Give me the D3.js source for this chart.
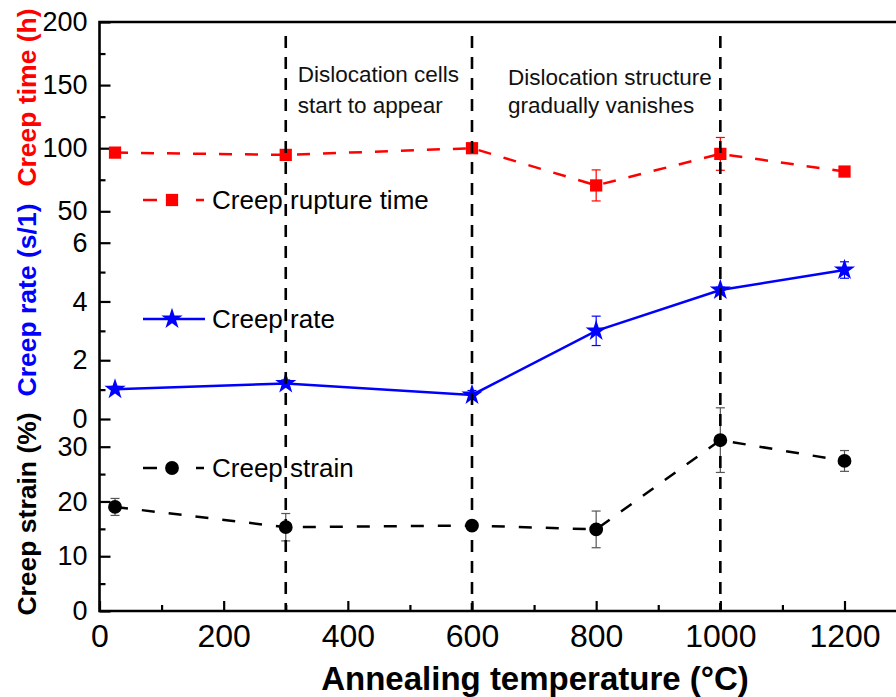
<!DOCTYPE html>
<html>
<head>
<meta charset="utf-8">
<script src="https://cdn.jsdelivr.net/npm/d3@7"></script>
<style>
  html, body { margin: 0; padding: 0; background: #fff; }
  svg { display: block; font-family: "Liberation Sans", Arial, sans-serif; }
</style>
</head>
<body>
<svg id="chart" width="896" height="697"></svg>
<script>
// Annealing temperatures (°C)
const temps = [25, 300, 600, 800, 1000, 1200];

// Creep rupture time (h) with error
const ruptureTime = [96.5, 94.7, 100, 70.5, 95.5, 81.5];
const ruptureErr  = [2, 2, 2, 12.3, 13, 2];

// Creep rate with error
const creepRate = [1.01, 1.21, 0.82, 3.0, 4.39, 5.07];
const rateErr   = [0.1, 0.12, 0.15, 0.5, 0.1, 0.28];

// Creep strain (%) with error
const creepStrain = [19.0, 15.3, 15.6, 14.9, 31.2, 27.4];
const strainErr   = [1.55, 2.5, 0.3, 3.35, 5.9, 1.9];

// Axis ticks
const xTicks = [0, 200, 400, 600, 800, 1000, 1200];
const xMinor = [100, 300, 500, 700, 900, 1100, 1300];
const timeTicks = [50, 100, 150, 200];
const timeMinor = [75, 125, 175];
const rateTicks = [0, 2, 4, 6];
const rateMinor = [1, 3, 5];
const strainTicks = [0, 10, 20, 30];
const strainMinor = [5, 15, 25];

// Vertical reference lines and their notes
const refLines = [300, 600, 1000];
const notes = [
  { x: 300, lines: ["Dislocation cells", "start to appear"] },
  { x: 600, lines: ["Dislocation structure", "gradually vanishes"] }
];

const legendLabels = ["Creep rupture time", "Creep rate", "Creep strain"];

const svg = d3.select("#chart");
const padL = 99.5, padT = 22, padB = 611, padR = 896;
const intFmt = d3.format("d");

const x = d3.scaleLinear().domain([0, 1200]).range([99.5, 844.5]);
const yTime = d3.scaleLinear().domain([50, 200]).range([211.3, 22]);
const yRate = d3.scaleLinear().domain([0, 6]).range([419, 242.7]);
const yStrain = d3.scaleLinear().domain([0, 30]).range([611, 446.7]);

const RED = "#ff0000", BLUE = "#0000ff", BLACK = "#000000";

// ----- axes -----
function leftAxis(scale, major, minor) {
  const g = svg.append("g").attr("transform", `translate(${padL},0)`);
  g.call(d3.axisLeft(scale).tickValues(major).tickFormat(intFmt)
      .tickSizeInner(-11).tickSizeOuter(0).tickPadding(12))
   .call(s => s.select(".domain").remove());
  g.selectAll(".tick line").attr("stroke", BLACK).attr("stroke-width", 2.2);
  g.selectAll(".tick text").attr("font-size", 27).attr("fill", BLACK)
    .attr("font-family", "Liberation Sans, Arial, sans-serif");
  const m = svg.append("g").attr("transform", `translate(${padL},0)`);
  m.call(d3.axisLeft(scale).tickValues(minor).tickSizeInner(-6).tickSizeOuter(0).tickFormat(""))
   .call(s => s.select(".domain").remove());
  m.selectAll(".tick line").attr("stroke", BLACK).attr("stroke-width", 2.2);
}
leftAxis(yTime, timeTicks, timeMinor);
leftAxis(yRate, rateTicks, rateMinor);
leftAxis(yStrain, strainTicks, strainMinor);

const gx = svg.append("g").attr("transform", `translate(0,${padB})`);
gx.call(d3.axisBottom(x).tickValues(xTicks).tickFormat(intFmt)
    .tickSizeInner(-10).tickSizeOuter(0).tickPadding(13))
  .call(s => s.select(".domain").remove());
gx.selectAll(".tick line").attr("stroke", BLACK).attr("stroke-width", 2.2);
gx.selectAll(".tick text").attr("font-size", 32).attr("fill", BLACK)
  .attr("font-family", "Liberation Sans, Arial, sans-serif");
const gxm = svg.append("g").attr("transform", `translate(0,${padB})`);
gxm.call(d3.axisBottom(x).tickValues(xMinor).tickSizeInner(-6).tickSizeOuter(0).tickFormat(""))
  .call(s => s.select(".domain").remove());
gxm.selectAll(".tick line").attr("stroke", BLACK).attr("stroke-width", 2.2);

// frame: left, top and bottom spines
svg.append("path")
  .attr("d", `M${padR},${padT}H${padL}V${padB}H${padR}`)
  .attr("fill", "none").attr("stroke", BLACK).attr("stroke-width", 2.6);

// axis titles
svg.append("text").attr("x", 535).attr("y", 690).attr("text-anchor", "middle")
  .attr("font-size", 33).attr("font-weight", "bold").text("Annealing temperature (°C)");

const yTitles = [
  { text: "Creep time (h)", color: RED, cy: 97.5 },
  { text: "Creep rate (s/1)", color: BLUE, cy: 300 },
  { text: "Creep strain (%)", color: BLACK, cy: 514 }
];
svg.selectAll(".ytitle").data(yTitles).enter().append("text")
  .attr("class", "ytitle")
  .attr("transform", d => `translate(36,${d.cy}) rotate(-90)`)
  .attr("text-anchor", "middle").attr("font-size", 26.5).attr("font-weight", "bold")
  .attr("fill", d => d.color).text(d => d.text);

// ----- series -----
const series = [
  { vals: ruptureTime, err: ruptureErr, y: yTime, color: RED, dash: "13,13", sym: d3.symbolSquare, size: 150, errColor: RED },
  { vals: creepRate, err: rateErr, y: yRate, color: BLUE, dash: null, sym: d3.symbolStar, size: 140, errColor: BLUE },
  { vals: creepStrain, err: strainErr, y: yStrain, color: BLACK, dash: "13,14", sym: d3.symbolCircle, size: 150, errColor: "#555" }
];

series.forEach(s => {
  const pts = temps.map((t, i) => ({ t, v: s.vals[i], e: s.err[i] }));
  // error bars
  const eb = svg.append("g").attr("stroke", s.errColor).attr("stroke-width", 1.2);
  pts.forEach(p => {
    const cx = x(p.t), y1 = s.y(p.v + p.e), y2 = s.y(p.v - p.e);
    eb.append("line").attr("x1", cx).attr("x2", cx).attr("y1", y1).attr("y2", y2);
    eb.append("line").attr("x1", cx - 4.5).attr("x2", cx + 4.5).attr("y1", y1).attr("y2", y1);
    eb.append("line").attr("x1", cx - 4.5).attr("x2", cx + 4.5).attr("y1", y2).attr("y2", y2);
  });
  // connecting line
  svg.append("path").datum(pts)
    .attr("d", d3.line().x(p => x(p.t)).y(p => s.y(p.v)))
    .attr("fill", "none").attr("stroke", s.color).attr("stroke-width", 2.5)
    .attr("stroke-dasharray", s.dash);
  // markers
  svg.append("g").selectAll("path").data(pts).enter().append("path")
    .attr("transform", p => `translate(${x(p.t)},${s.y(p.v)})`)
    .attr("d", d3.symbol().type(s.sym).size(s.size)())
    .attr("fill", s.color);
});

// ----- legend -----
const legendY = [200, 319, 468];
series.forEach((s, i) => {
  const g = svg.append("g").attr("transform", `translate(0,${legendY[i]})`);
  if (s.dash) {
    g.append("line").attr("x1", 143).attr("x2", 157).attr("stroke", s.color).attr("stroke-width", 2.5);
    g.append("line").attr("x1", 196).attr("x2", 204).attr("stroke", s.color).attr("stroke-width", 2.5);
  } else {
    g.append("line").attr("x1", 143).attr("x2", 205).attr("stroke", s.color).attr("stroke-width", 2.5);
  }
  g.append("path").attr("transform", "translate(172,0)")
    .attr("d", d3.symbol().type(s.sym).size(s.size)()).attr("fill", s.color);
  g.append("text").attr("x", 212).attr("y", 8.5).attr("font-size", 26).attr("fill", BLACK)
    .text(legendLabels[i]);
});

// ----- notes -----
notes.forEach((n, k) => {
  const t = svg.append("text").attr("font-size", 22.5).attr("fill", "#111");
  const baseY = k === 0 ? 82 : 85;
  n.lines.forEach((ln, j) => {
    t.append("tspan").attr("x", x(n.x) + (k === 0 ? 12 : 36)).attr("y", j === 0 ? baseY : 113).text(ln);
  });
});

// ----- vertical reference lines (drawn on top) -----
svg.append("g").selectAll("line").data(refLines).enter().append("line")
  .attr("x1", d => x(d)).attr("x2", d => x(d))
  .attr("y1", 36).attr("y2", padB)
  .attr("stroke", BLACK).attr("stroke-width", 2.6).attr("stroke-dasharray", "12,9");
</script>
</body>
</html>
